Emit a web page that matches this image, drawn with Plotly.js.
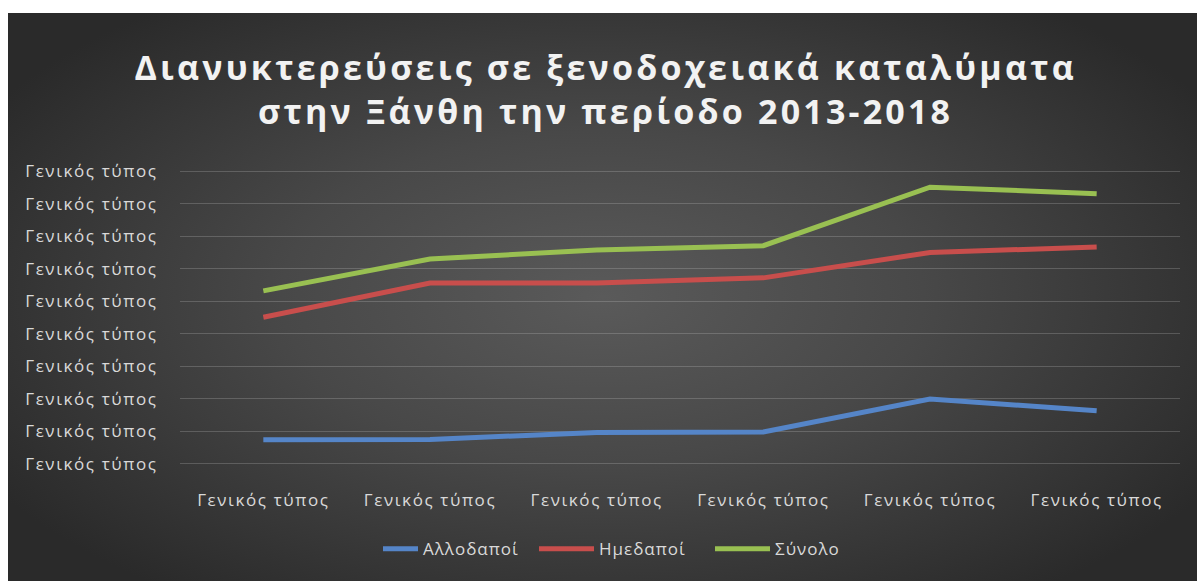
<!DOCTYPE html>
<html>
<head>
<meta charset="utf-8">
<script src="https://cdn.plot.ly/plotly-3.0.1.min.js"></script>
<style>
  html, body { margin: 0; padding: 0; background: #ffffff; }
  #bg {
    position: absolute; left: 8px; top: 13px; width: 1189px; height: 568px;
    background: radial-gradient(ellipse 60% 65% at 50% 50%, #5a5a5a 0%, #484848 45%, #2a2a2a 100%);
  }
  #chart { position: absolute; left: 0; top: 0; width: 1197px; height: 581px; }
  #chart .gtitle { letter-spacing: 3.2px; }
  #chart .xtick text, #chart .ytick text { letter-spacing: 1.6px; }
  #chart .legendtext { letter-spacing: 1.0px; }
</style>
</head>
<body>
<div id="bg"></div>
<div id="chart"></div>
<script>
// Categories (years 2013-2018, labelled "Γενικός τύπος" in the original)
const years = [2013, 2014, 2015, 2016, 2017, 2018];
const xTickText = ["Γενικός τύπος","Γενικός τύπος","Γενικός τύπος","Γενικός τύπος","Γενικός τύπος","Γενικός τύπος"];
// Y axis ticks (values in relative units; all labels read "Γενικός τύπος")
const yTickVals = [0, 1, 2, 3, 4, 5, 6, 7, 8, 9];
const yTickText = ["Γενικός τύπος","Γενικός τύπος","Γενικός τύπος","Γενικός τύπος","Γενικός τύπος","Γενικός τύπος","Γενικός τύπος","Γενικός τύπος","Γενικός τύπος","Γενικός τύπος"];
// Series values
const allodapoi = [0.74, 0.75, 0.96, 0.98, 1.99, 1.63];
const imedapoi  = [4.51, 5.56, 5.56, 5.72, 6.50, 6.67];
const synolo    = [5.32, 6.30, 6.58, 6.71, 8.51, 8.31];

const font = "Open Sans, Noto Sans, sans-serif";
const mk = (name, y, color) => ({
  type: "scatter", mode: "lines", name: name,
  x: years, y: y,
  line: { color: color, width: 5 }
});
const data = [
  mk("Αλλοδαποί", allodapoi, "#5585c8"),
  mk("Ημεδαποί", imedapoi, "#c84e4c"),
  mk("Σύνολο", synolo, "#99c052")
];

const layout = {
  width: 1197, height: 581,
  paper_bgcolor: "rgba(0,0,0,0)",
  plot_bgcolor: "rgba(0,0,0,0)",
  margin: { l: 180, r: 17, t: 168, b: 114 },
  title: {
    text: "Διανυκτερεύσεις σε ξενοδοχειακά καταλύματα<br>στην Ξάνθη την περίοδο 2013-2018",
    font: { family: font, size: 34, color: "#f2f2f2", weight: "bold" },
    x: 0.506, xanchor: "center", y: 0.862, yanchor: "top"
  },
  showlegend: true,
  legend: {
    orientation: "h", x: 0.467, xanchor: "center", y: -0.215, yanchor: "top",
    font: { family: font, size: 17, color: "#d9d9d9" },
    entrywidth: 131, entrywidthmode: "pixels", traceorder: "normal"
  },
  xaxis: {
    type: "linear",
    range: [2012.5, 2018.5],
    tickmode: "array", tickvals: years, ticktext: xTickText,
    showgrid: false, zeroline: false, showline: false,
    ticks: "outside", ticklen: 18, tickcolor: "rgba(0,0,0,0)",
    tickfont: { family: font, size: 17, color: "#d9d9d9" }
  },
  yaxis: {
    range: [-0.1, 9.1],
    tickmode: "array", tickvals: yTickVals, ticktext: yTickText,
    showgrid: true, gridcolor: "rgba(217,217,217,0.22)", gridwidth: 1,
    zeroline: false, showline: false,
    ticks: "outside", ticklen: 18, tickcolor: "rgba(0,0,0,0)",
    tickfont: { family: font, size: 17, color: "#d9d9d9" }
  }
};
Plotly.newPlot("chart", data, layout, { displayModeBar: false, staticPlot: true }).then(function (gd) {
  // lengthen the legend line samples (style only)
  gd.querySelectorAll(".legend .legendlines path").forEach(function (p) {
    p.setAttribute("d", "M-20,0h55");
  });
});
</script>
</body>
</html>
